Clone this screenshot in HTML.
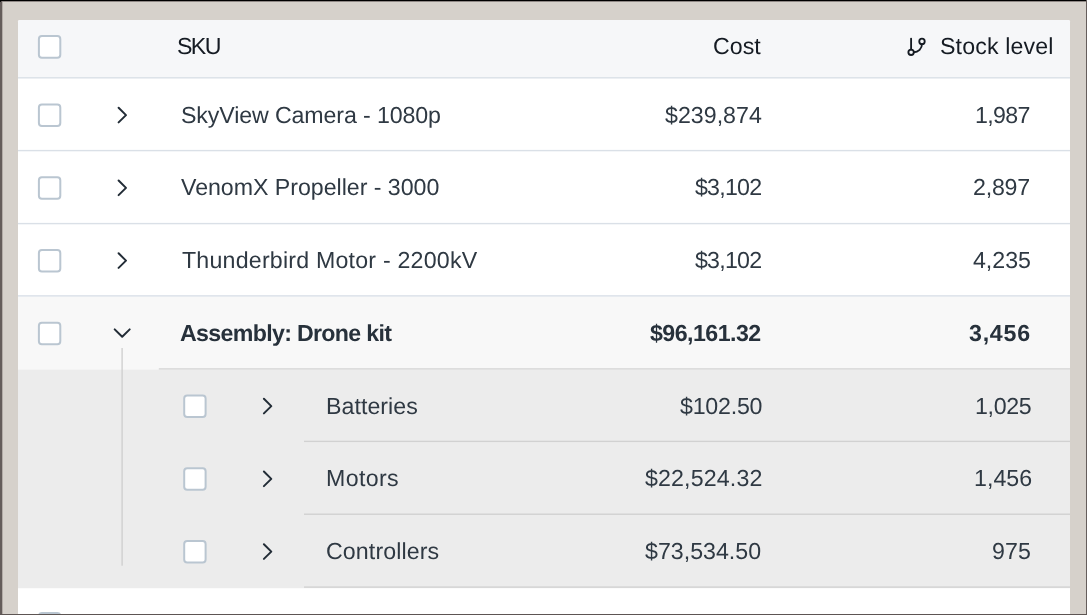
<!DOCTYPE html>
<html>
<head>
<meta charset="utf-8">
<style>
*{box-sizing:border-box;margin:0;padding:0}
html,body{width:1087px;height:615px;overflow:hidden}
body{position:relative;background:#d6d1cb;font-family:"Liberation Sans",sans-serif;color:#2f3943}
.abs{position:absolute}
svg{position:absolute;left:0;top:0}
.t{position:absolute;-webkit-font-smoothing:antialiased;text-rendering:geometricPrecision;will-change:transform;font-size:23.2px;line-height:26px;white-space:nowrap}
</style>
</head>
<body>
<div class="abs" style="left:0;top:1px;width:1087px;height:1px;background:#8f8885"></div>
<div class="abs" style="left:0;top:0;width:2px;height:615px;background:#655d5b"></div>
<div class="abs" style="left:2px;top:2px;width:1px;height:613px;background:#b3aca7"></div>
<div class="abs" style="left:0;top:0;width:1087px;height:1px;background:#000"></div>
<div class="abs" style="left:0;top:1px;width:1px;height:1px;background:#111"></div>
<div class="abs" style="left:1086px;top:0;width:1px;height:615px;background:#655d5b"></div>
<div class="abs" style="left:0;top:614px;width:1087px;height:1px;background:#5d5553"></div>
<svg width="1087" height="615" viewBox="0 0 1087 615">
<defs><clipPath id="c"><rect x="0" y="0" width="1087" height="614"/></clipPath></defs>
<g clip-path="url(#c)">
<rect x="18" y="20" width="1052" height="600" rx="1.5" fill="#fff"/>
<path d="M18 21.5 A1.5 1.5 0 0 1 19.5 20 L1068.5 20 A1.5 1.5 0 0 1 1070 21.5 L1070 77.4 L18 77.4 Z" fill="#f6f7f9"/>
<rect x="18" y="296.4" width="1052" height="73.2" fill="#f8f8f8"/>
<rect x="18" y="369.6" width="1052" height="218.6" fill="#ececec"/>
<rect x="18" y="77.10" width="1052" height="1.4" fill="#dae0e7"/>
<rect x="18" y="149.90" width="1052" height="1.4" fill="#dae0e7"/>
<rect x="18" y="222.90" width="1052" height="1.4" fill="#dae0e7"/>
<rect x="18" y="295.20" width="1052" height="1.4" fill="#d9dfe8"/>
<rect x="158.8" y="368.20" width="911.2" height="1.4" fill="#d6d6d6"/>
<rect x="304" y="440.70" width="766" height="1.4" fill="#d1d1d1"/>
<rect x="304" y="513.50" width="766" height="1.4" fill="#d1d1d1"/>
<rect x="304" y="586.40" width="766" height="1.4" fill="#d1d1d1"/>
<rect x="121.45" y="348" width="1.3" height="217.7" fill="#cdcdcd"/>
<rect x="38.90" y="36.10" width="21.4" height="21.6" rx="3" fill="#fff" stroke="#bac6d1" stroke-width="2"/>
<rect x="38.90" y="104.40" width="21.4" height="21.6" rx="3" fill="#fff" stroke="#bac6d1" stroke-width="2"/>
<path d="M118.60 107.80 L126.00 115.10 L118.60 122.40" fill="none" stroke="#222c36" stroke-width="2" stroke-linecap="round" stroke-linejoin="round"/>
<rect x="38.90" y="177.15" width="21.4" height="21.6" rx="3" fill="#fff" stroke="#bac6d1" stroke-width="2"/>
<path d="M118.60 180.55 L126.00 187.85 L118.60 195.15" fill="none" stroke="#222c36" stroke-width="2" stroke-linecap="round" stroke-linejoin="round"/>
<rect x="38.90" y="249.90" width="21.4" height="21.6" rx="3" fill="#fff" stroke="#bac6d1" stroke-width="2"/>
<path d="M118.60 253.30 L126.00 260.60 L118.60 267.90" fill="none" stroke="#222c36" stroke-width="2" stroke-linecap="round" stroke-linejoin="round"/>
<rect x="38.90" y="322.65" width="21.4" height="21.6" rx="3" fill="#fff" stroke="#bac6d1" stroke-width="2"/>
<path d="M114.7 329.40 L122.2 336.80 L129.7 329.40" fill="none" stroke="#222c36" stroke-width="2" stroke-linecap="round" stroke-linejoin="round"/>
<rect x="184.20" y="395.40" width="21.4" height="21.6" rx="3" fill="#fff" stroke="#bac6d1" stroke-width="2"/>
<path d="M263.90 398.80 L271.30 406.10 L263.90 413.40" fill="none" stroke="#222c36" stroke-width="2" stroke-linecap="round" stroke-linejoin="round"/>
<rect x="184.20" y="468.15" width="21.4" height="21.6" rx="3" fill="#fff" stroke="#bac6d1" stroke-width="2"/>
<path d="M263.90 471.55 L271.30 478.85 L263.90 486.15" fill="none" stroke="#222c36" stroke-width="2" stroke-linecap="round" stroke-linejoin="round"/>
<rect x="184.20" y="540.90" width="21.4" height="21.6" rx="3" fill="#fff" stroke="#bac6d1" stroke-width="2"/>
<path d="M263.90 544.30 L271.30 551.60 L263.90 558.90" fill="none" stroke="#222c36" stroke-width="2" stroke-linecap="round" stroke-linejoin="round"/>
<rect x="38.90" y="613.05" width="21.4" height="21.6" rx="3" fill="#fff" stroke="#bac6d1" stroke-width="2"/>
<g fill="none" stroke="#151b23" stroke-width="1.85" stroke-linecap="round" stroke-linejoin="round"><path d="M911.10 38.67 L911.10 49.57"/><circle cx="921.99" cy="41.40" r="2.72"/><circle cx="911.10" cy="52.29" r="2.72"/><path d="M921.99 44.12 A8.17 8.17 0 0 1 913.82 52.29"/></g>
</g>
</svg>
<div class="t" style="left:177.00px;top:33.20px;letter-spacing:-1.650px;color:#151b23">SKU</div>
<div class="t" style="left:713.40px;top:33.20px;letter-spacing:0.033px;color:#151b23">Cost</div>
<div class="t" style="left:939.80px;top:33.20px;letter-spacing:0.140px;color:#151b23">Stock level</div>
<div class="t" style="left:180.60px;top:101.55px;letter-spacing:-0.124px">SkyView Camera - 1080p</div>
<div class="t" style="left:664.90px;top:101.55px;letter-spacing:0.014px">$239,874</div>
<div class="t" style="left:975.30px;top:101.55px;letter-spacing:-0.650px">1,987</div>
<div class="t" style="left:181.20px;top:174.30px;letter-spacing:-0.036px">VenomX Propeller - 3000</div>
<div class="t" style="left:694.70px;top:174.30px;letter-spacing:-0.780px">$3,102</div>
<div class="t" style="left:973.30px;top:174.30px;letter-spacing:-0.225px">2,897</div>
<div class="t" style="left:181.80px;top:247.05px;letter-spacing:0.208px">Thunderbird Motor - 2200kV</div>
<div class="t" style="left:694.70px;top:247.05px;letter-spacing:-0.780px">$3,102</div>
<div class="t" style="left:972.90px;top:247.05px;letter-spacing:-0.025px">4,235</div>
<div class="t" style="left:180.20px;top:319.80px;letter-spacing:-0.678px;font-weight:700;color:#27313b">Assembly: Drone kit</div>
<div class="t" style="left:650.00px;top:319.80px;letter-spacing:-0.544px;font-weight:700;color:#27313b">$96,161.32</div>
<div class="t" style="left:969.30px;top:319.80px;letter-spacing:0.750px;font-weight:700;color:#27313b">3,456</div>
<div class="t" style="left:326.00px;top:392.55px;letter-spacing:0.038px">Batteries</div>
<div class="t" style="left:679.60px;top:392.55px;letter-spacing:-0.217px">$102.50</div>
<div class="t" style="left:975.10px;top:392.55px;letter-spacing:-0.350px">1,025</div>
<div class="t" style="left:326.00px;top:465.30px;letter-spacing:0.340px">Motors</div>
<div class="t" style="left:645.00px;top:465.30px;letter-spacing:0.144px">$22,524.32</div>
<div class="t" style="left:973.60px;top:465.30px;letter-spacing:0.025px">1,456</div>
<div class="t" style="left:326.00px;top:538.05px;letter-spacing:0.100px">Controllers</div>
<div class="t" style="left:645.00px;top:538.05px;letter-spacing:0.000px">$73,534.50</div>
<div class="t" style="left:992.10px;top:538.05px;letter-spacing:0.150px">975</div>
</body>
</html>
